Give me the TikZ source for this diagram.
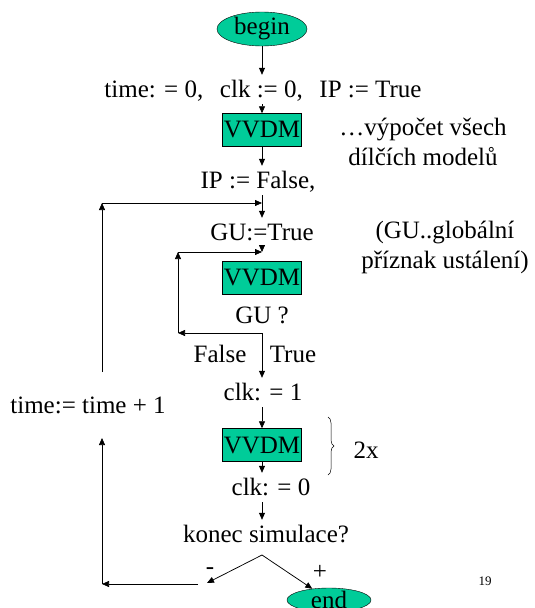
\documentclass[tikz,border=0pt]{standalone}
\usepackage{fontspec}
\setmainfont{Liberation Serif}
\usetikzlibrary{arrows.meta,shapes.geometric,decorations.pathreplacing}
\definecolor{vvdmgreen}{RGB}{0,204,153}

\begin{document}
\begin{tikzpicture}[x=1pt, y=-1pt,
    font=\fontsize{25}{30}\selectfont,
    txt/.style={inner xsep=1pt, inner ysep=5pt, text height=17pt, text depth=2pt, anchor=base},
    note/.style={align=center, inner sep=0pt, anchor=base},
    vvdm/.style={draw, fill=vvdmgreen, inner sep=0pt, minimum width=79pt, minimum height=33pt},
    term/.style={draw, ellipse, fill=vvdmgreen, inner sep=0pt},
    arr/.style={-{Triangle[length=7pt, width=6pt]}, line width=0.75pt}]
  \useasboundingbox (0,0) rectangle (535,608);

  % Start a inicializace
  \node[term, minimum width=90pt, minimum height=34pt] (begin) at (262,29) {begin};
  \node[txt] (init) at (263,97) {time: = 0,\ \ \,clk := 0,\ \ \,IP := True};
  \node[vvdm] (vvdm1) at (262,130) {VVDM};
  \node[note] (note1) at (423,165) {\dots výpočet všech\\dílčích modelů};
  \node[txt] (ipfalse) at (258,188) {IP := False,};

  % Vnitrni smycka ustaleni
  \node[txt] (gutrue) at (262,240) {GU:=True};
  \node[note] (note2) at (445,268) {(GU..globální\\příznak ustálení)};
  \node[vvdm] (vvdm2) at (262,278) {VVDM};
  \node[txt] (guq) at (262,323) {GU ?};
  \node[txt] (false) at (220,362) {False};
  \node[txt] (true) at (293,362) {True};

  % Hodiny
  \node[txt] (clk1) at (263,400) {clk: = 1};
  \node[vvdm] (vvdm3) at (262,445) {VVDM};
  \node[txt] (clk0) at (271,495) {clk: = 0};
  \node[txt] (twox) at (366,458) {2x};
  \draw[decorate, decoration={brace, amplitude=6pt}, line width=0.5pt] (328,417) -- (328,475);

  % Konec
  \node[txt] (konec) at (266,542) {konec simulace?};
  \node[txt] (minus) at (210,574) {-};
  \node[txt] (plus) at (320,579) {+};
  \node[term, minimum width=84pt, minimum height=24pt, text height=16pt, text depth=0pt] (end) at (329,600) {end};
  \node[txt] (timeinc) at (88,413) {time:= time + 1};
  \node[anchor=base, font=\fontsize{13}{15}\selectfont] (page) at (485,585) {19};

  % Body smycek
  \coordinate (jo) at (262,203);
  \coordinate (ji) at (262,252);
  \coordinate (split) at (262,333);
  \coordinate (ibl) at (178,333);
  \coordinate (itl) at (178,252);
  \coordinate (otl) at (102,203);
  \coordinate (olow) at (102,372);
  \coordinate (omid) at (102,438);
  \coordinate (obl) at (102,584);
  \coordinate (lstart) at (198,584);
  \coordinate (ks) at (262,555);
  \coordinate (mtip) at (207,583);

  % Hlavni tok
  \draw[arr] (begin) -- (begin |- init.north);
  \draw[arr] (vvdm1 |- init.south) -- (vvdm1);
  \draw[arr] (vvdm1) -- (vvdm1 |- ipfalse.north);
  \draw[arr] (gutrue |- ipfalse.south) -- (gutrue.north);
  \draw[arr] (gutrue.south) -- (ji);
  \draw[arr] (split) -- (vvdm3 |- clk1.north);
  \draw[arr] (vvdm3 |- clk1.south) -- (vvdm3);
  \draw[arr] (vvdm3) -- (vvdm3 |- clk0.north);
  \draw[arr] (vvdm3 |- clk0.south) -- (vvdm3 |- konec.north);
  \draw[arr] (ks) -- (mtip);
  \draw[arr] (ks) -- (end);

  % Smycka GU
  \draw[arr] (split) -- (ibl);
  \draw[arr] (ibl) -- (itl);
  \draw[arr] (itl) -- (ji);

  % Smycka casu
  \draw[arr] (lstart) -- (obl);
  \draw[arr] (obl) -- (omid);
  \draw[arr] (olow) -- (otl);
  \draw[arr] (otl) -- (jo);
\end{tikzpicture}
\end{document}
